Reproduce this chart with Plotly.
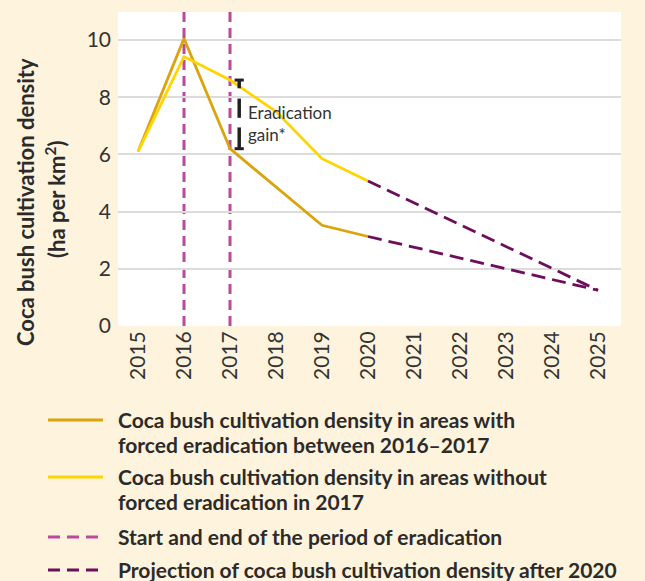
import plotly.graph_objects as go

years = [2015, 2016, 2017, 2018, 2019, 2020]
with_eradication = [6.1, 10.05, 6.2, 4.85, 3.52, 3.13]
without_eradication = [6.1, 9.42, 8.6, 7.5, 5.85, 5.07]
projection_years = [2020, 2025]
projection_end = 1.25
eradication_years = [2016, 2017]
x_ticks = list(range(2015, 2026))
y_ticks = [0, 2, 4, 6, 8, 10]

legend_labels = [
    ["Coca bush cultivation density in areas with", "forced eradication between 2016\u20132017"],
    ["Coca bush cultivation density in areas without", "forced eradication in 2017"],
    ["Start and end of the period of eradication"],
    ["Projection of coca bush cultivation density after 2020"],
]

GOLD = "#D9A40C"
YELLOW = "#FFD500"
MAGENTA = "#B94A9C"
PURPLE = "#6D0E5C"
BG = "#FEF3DD"
TEXT = "#2B2B2B"
FONT = "Lato"

W, H = 645, 581
L, R, T, B = 118, 621, 12, 326


def px(xp):
    return (xp - L) / (R - L)


def py(yp):
    return (B - yp) / (B - T)


fig = go.Figure()

fig.add_trace(go.Scatter(x=years, y=with_eradication, mode="lines",
                         line=dict(color=GOLD, width=2.8), showlegend=False))
fig.add_trace(go.Scatter(x=years, y=without_eradication, mode="lines",
                         line=dict(color=YELLOW, width=2.8), showlegend=False))
for start in (without_eradication[-1], with_eradication[-1]):
    fig.add_trace(go.Scatter(x=projection_years, y=[start, projection_end], mode="lines",
                             line=dict(color=PURPLE, width=2.8, dash="14px,7px"),
                             showlegend=False))

for yr in eradication_years:
    fig.add_vline(x=yr, line=dict(color=MAGENTA, width=3, dash="10px,6px"), layer="below")

# eradication gain bracket
i17 = years.index(2017)
g_top = without_eradication[i17]
g_bot = with_eradication[i17]
span = g_top - g_bot
bx = 2017.2
segs = [(0.0, 0.12), (0.27, 0.55), (0.69, 1.0)]
for a, b in segs:
    fig.add_shape(type="line", x0=bx, x1=bx, y0=g_top - a * span, y1=g_top - b * span,
                  line=dict(color="#222222", width=3.5))
for yv in (g_top, g_bot):
    fig.add_shape(type="line", x0=bx - 0.1, x1=bx + 0.1, y0=yv, y1=yv,
                  line=dict(color="#222222", width=3))
fig.add_annotation(x=bx + 0.15, y=g_top - 0.47 * span, text="Eradication", showarrow=False,
                   xanchor="left", yanchor="middle", font=dict(family=FONT, size=17, color="#333333"))
fig.add_annotation(x=bx + 0.15, y=g_top - 0.8 * span, text="gain*", showarrow=False,
                   xanchor="left", yanchor="middle", font=dict(family=FONT, size=17, color="#333333"))

# y axis title
fig.add_annotation(xref="paper", yref="paper", x=px(25), y=py(202), text="Coca bush cultivation density",
                   textangle=-90, showarrow=False, xanchor="center", yanchor="middle",
                   font=dict(family=FONT, size=22, color=TEXT, weight="bold"))
fig.add_annotation(xref="paper", yref="paper", x=px(55), y=py(200), text="(ha per km<sup>2</sup>)",
                   textangle=-90, showarrow=False, xanchor="center", yanchor="middle",
                   font=dict(family=FONT, size=22, color=TEXT, weight="bold"))

# custom legend
legend_styles = [
    dict(color=GOLD, width=3),
    dict(color=YELLOW, width=3),
    dict(color=MAGENTA, width=3, dash="12px,7px"),
    dict(color=PURPLE, width=3, dash="12px,7px"),
]
legend_rows = [420, 477, 537, 570]
line_gap = 25
for lab, sty, yrow in zip(legend_labels, legend_styles, legend_rows):
    fig.add_shape(type="line", xref="paper", yref="paper", x0=px(48), x1=px(103),
                  y0=py(yrow), y1=py(yrow), line=sty)
    for k, txt in enumerate(lab):
        fig.add_annotation(xref="paper", yref="paper", x=px(116), y=py(yrow - 1 + k * line_gap),
                           text=txt, showarrow=False, xanchor="left", yanchor="middle",
                           font=dict(family=FONT, size=21, color=TEXT, weight="bold"))

fig.update_layout(
    width=W, height=H,
    margin=dict(l=L, r=W - R, t=T, b=H - B),
    paper_bgcolor=BG, plot_bgcolor="white",
    font=dict(family=FONT, size=21, color="#333333"),
    showlegend=False,
)
fig.update_xaxes(range=[2014.565, 2025.5], tickvals=x_ticks, tickangle=-90,
                 showgrid=False, zeroline=False, showline=False, ticks="",
                 tickfont=dict(family=FONT, size=21, color="#333333"))
fig.update_yaxes(range=[0, 10.98], tickvals=y_ticks, showgrid=True, gridcolor="#DCDCDC",
                 gridwidth=1.5, zeroline=False, showline=False, ticks="",
                 ticklabelstandoff=6,
                 tickfont=dict(family=FONT, size=21, color="#333333"))

fig.write_html(
    "out.html",
    config={"displayModeBar": False},
    post_script="document.body.style.margin='0px';document.body.style.background='%s';" % BG,
)
